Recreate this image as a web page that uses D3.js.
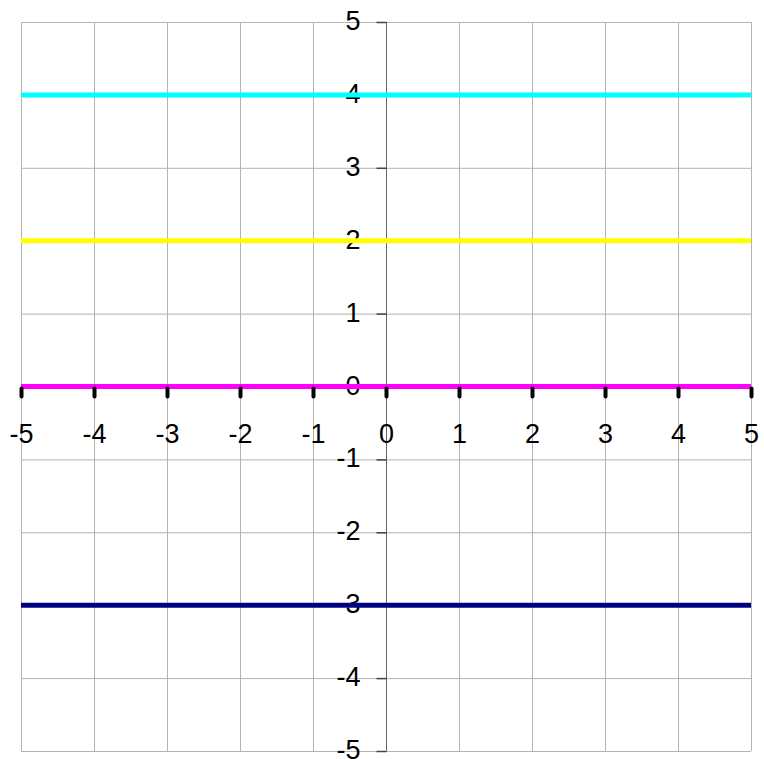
<!DOCTYPE html>
<html>
<head>
<meta charset="utf-8">
<script src="https://cdn.jsdelivr.net/npm/d3@7"></script>
<style>
  html, body { margin: 0; padding: 0; background: #fff; }
  svg { display: block; }
  text { font-family: "Liberation Sans", Arial, sans-serif; font-size: 27px; fill: #000; }
</style>
</head>
<body>
<svg id="chart" width="764" height="759"></svg>
<script>
// Horizontal lines y = c, each drawn across the full x domain
const lineNames = ["y = 4", "y = 2", "y = 0", "y = -3"];
const lineValues = [4, 2, 0, -3];
const lineColors = ["#00ffff", "#ffff00", "#ff00ff", "#000080"];
const xTicks = [-5, -4, -3, -2, -1, 0, 1, 2, 3, 4, 5];
const yTicks = [-5, -4, -3, -2, -1, 0, 1, 2, 3, 4, 5];

const svg = d3.select("#chart");
const plot = { left: 21, right: 751, top: 22, bottom: 751 };
const fmt = d => String(d);   // plain hyphen for negatives
const labelFont = "Liberation Sans, Arial, sans-serif";

const x = d3.scaleLinear().domain([-5, 5]).range([plot.left, plot.right]);
const y = d3.scaleLinear().domain([-5, 5]).range([plot.bottom, plot.top]);

// grid
const grid = svg.append("g").attr("stroke", "#b3b3b3").attr("stroke-width", 1);
grid.selectAll("line.v").data(xTicks).join("line")
  .attr("x1", d => x(d) + 0.5).attr("x2", d => x(d) + 0.5)
  .attr("y1", plot.top).attr("y2", plot.bottom);
grid.selectAll("line.h").data(yTicks).join("line")
  .attr("y1", d => y(d) + 0.5).attr("y2", d => y(d) + 0.5)
  .attr("x1", plot.left).attr("x2", plot.right);

// y axis (vertical line through x = 0), ticks to the left
const yAxis = d3.axisLeft(y).tickValues(yTicks).tickSize(10).tickFormat(fmt);
const gy = svg.append("g").attr("transform", `translate(${x(0) + 0.5},0)`).call(yAxis);
gy.select(".domain").attr("stroke", "#666").attr("d", `M0,${plot.top}V${plot.bottom}`);
gy.selectAll(".tick line").attr("stroke", "#444").attr("stroke-width", 1.5);
gy.selectAll(".tick text").attr("font-size", 27).attr("font-family", labelFont)
  .attr("fill", "#000").attr("dy", 7.5).attr("x", -26);

// x axis (horizontal line through y = 0), ticks below
const xAxis = d3.axisBottom(x).tickValues(xTicks).tickSize(0).tickPadding(0).tickFormat(fmt);
const gx = svg.append("g").attr("transform", `translate(0,${y(0)})`).call(xAxis);
gx.select(".domain").attr("stroke", "none");
gx.selectAll(".tick line").remove();
gx.selectAll(".tick").append("line")
  .attr("x1", 0).attr("x2", 0).attr("y1", 2).attr("y2", 10)
  .attr("stroke", "#000").attr("stroke-width", 4).attr("stroke-linecap", "round");
gx.selectAll(".tick text").attr("font-size", 27).attr("font-family", labelFont)
  .attr("fill", "#000").attr("y", 56).attr("dy", 0);

// series lines
const lineGen = d3.line().x(d => x(d[0])).y(d => y(d[1]));
svg.append("g").selectAll("path").data(lineValues).join("path")
  .attr("d", v => lineGen([[-5, v], [5, v]]))
  .attr("fill", "none")
  .attr("stroke", (v, i) => lineColors[i])
  .attr("stroke-width", 5)
  .attr("data-name", (v, i) => lineNames[i]);

// keep the x tick marks visible over the zero line
gx.raise();
</script>
</body>
</html>
